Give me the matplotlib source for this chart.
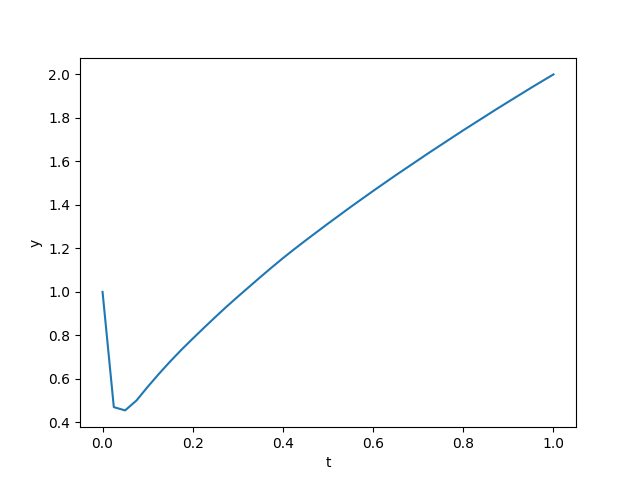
import matplotlib
matplotlib.use('Agg')
import matplotlib.pyplot as plt

# time grid and solution values
t = [0.000, 0.025, 0.050, 0.075, 0.100, 0.125, 0.150, 0.175, 0.200, 0.225,
     0.250, 0.275, 0.300, 0.325, 0.350, 0.375, 0.400, 0.425, 0.450, 0.475,
     0.500, 0.525, 0.550, 0.575, 0.600, 0.625, 0.650, 0.675, 0.700, 0.725,
     0.750, 0.775, 0.800, 0.825, 0.850, 0.875, 0.900, 0.925, 0.950, 0.975,
     1.000]
y = [1.000, 0.470, 0.455, 0.500, 0.563, 0.623, 0.680, 0.734, 0.785, 0.835,
     0.884, 0.932, 0.978, 1.023, 1.068, 1.112, 1.155, 1.196, 1.236, 1.275,
     1.314, 1.352, 1.390, 1.427, 1.464, 1.500, 1.536, 1.571, 1.606, 1.641,
     1.675, 1.709, 1.743, 1.776, 1.809, 1.842, 1.874, 1.906, 1.938, 1.969,
     2.000]

plt.figure(figsize=(6.4, 4.8), dpi=100)
plt.plot(t, y)
plt.xlabel('t')
plt.ylabel('y')
plt.savefig('out.png')
